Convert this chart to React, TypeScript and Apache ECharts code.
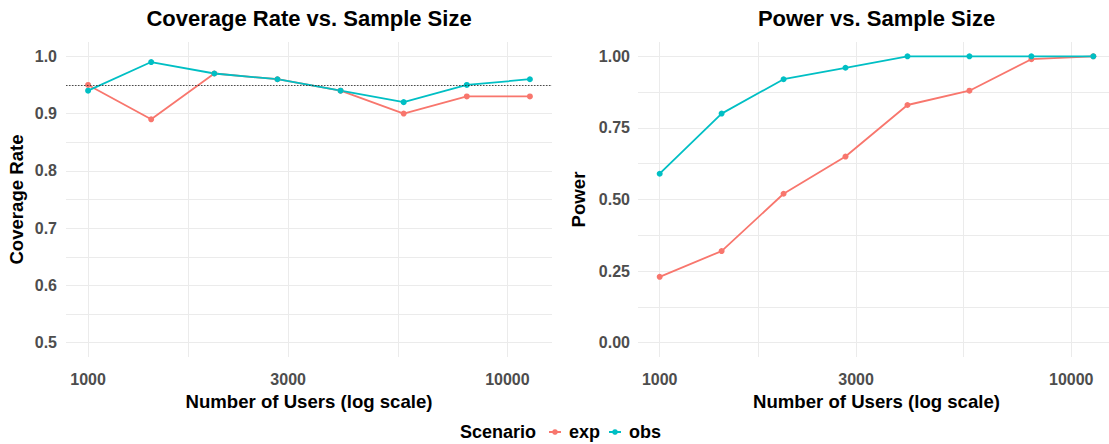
import React, { useEffect, useRef } from "react";
import * as echarts from "echarts";

const sampleSizes = [1000, 1414, 2000, 2828, 4000, 5657, 8000, 11314];
const coverageExp = [0.95, 0.89, 0.97, 0.96, 0.94, 0.9, 0.93, 0.93];
const coverageObs = [0.94, 0.99, 0.97, 0.96, 0.94, 0.92, 0.95, 0.96];
const powerExp = [0.23, 0.32, 0.52, 0.65, 0.83, 0.88, 0.99, 1.0];
const powerObs = [0.59, 0.8, 0.92, 0.96, 1.0, 1.0, 1.0, 1.0];
const nominalCoverage = 0.95;

const xMajorBreaks = [1000, 3000, 10000];
const xAllBreaks = [1000, 1732, 3000, 5477, 10000];
const coverageMajor = [0.5, 0.6, 0.7, 0.8, 0.9, 1.0];
const coverageAll = [0.5, 0.55, 0.6, 0.65, 0.7, 0.75, 0.8, 0.85, 0.9, 0.95, 1.0];
const powerMajor = [0, 0.25, 0.5, 0.75, 1.0];
const powerAll = [0, 0.125, 0.25, 0.375, 0.5, 0.625, 0.75, 0.875, 1.0];

const EXP_COLOR = "#F8766D";
const OBS_COLOR = "#00BFC4";
const FONT = "Liberation Sans, Arial, sans-serif";
const GRID_COLOR = "#EBEBEB";

export default function App() {
  const ref = useRef<HTMLDivElement>(null);

  useEffect(() => {
    if (!ref.current) return;
    const chart = echarts.init(ref.current, undefined, { renderer: "svg" });

    const lx = sampleSizes.map((v) => Math.log10(v));
    const lo = Math.min(...lx);
    const hi = Math.max(...lx);
    const pad = (hi - lo) * 0.05;
    const toPairs = (ys: number[]) => sampleSizes.map((s, i) => [Math.log10(s), ys[i]]);

    const xAxisBase = (gridIndex: number) => ({
      type: "value",
      gridIndex,
      min: lo - pad,
      max: hi + pad,
      axisLine: { show: false },
      axisTick: { show: false, customValues: xAllBreaks.map((v) => Math.log10(v)) },
      axisLabel: {
        customValues: xMajorBreaks.map((v) => Math.log10(v)),
        formatter: (v: number) => String(Math.round(Math.pow(10, v))),
        fontFamily: FONT,
        fontSize: 16,
        fontWeight: "bold",
        color: "#4D4D4D",
        margin: 14,
      },
      splitLine: { show: true, lineStyle: { color: GRID_COLOR, width: 1 } },
      name: "Number of Users (log scale)",
      nameLocation: "middle",
      nameGap: 30,
      nameTextStyle: { fontFamily: FONT, fontSize: 18.6, fontWeight: "bold", color: "#000" },
    });

    const seriesBase = (name: string, color: string, xi: number, data: number[][]) => ({
      type: "line",
      name,
      xAxisIndex: xi,
      yAxisIndex: xi,
      data,
      color,
      symbol: "circle",
      symbolSize: 6,
      lineStyle: { color, width: 1.8 },
      itemStyle: { color },
      silent: true,
    });

    const option: any = {
      animation: false,
      backgroundColor: "#fff",
      grid: [
        { left: 66, top: 42, width: 486, height: 315, outerBoundsMode: "none" },
        { left: 638, top: 42, width: 477, height: 315, outerBoundsMode: "none" },
      ],
      xAxis: [xAxisBase(0), xAxisBase(1)],
      yAxis: [
        {
          type: "value",
          gridIndex: 0,
          min: 0.475,
          max: 1.025,
          axisLine: { show: false },
          axisTick: { show: false, customValues: coverageAll },
          axisLabel: {
            customValues: coverageMajor,
            formatter: (v: number) => v.toFixed(1),
            fontFamily: FONT,
            fontSize: 16,
            fontWeight: "bold",
            color: "#4D4D4D",
            margin: 9,
          },
          splitLine: { show: true, lineStyle: { color: GRID_COLOR, width: 1 } },
          name: "Coverage Rate",
          nameLocation: "middle",
          nameGap: 40,
          nameTextStyle: { fontFamily: FONT, fontSize: 18.6, fontWeight: "bold", color: "#000" },
        },
        {
          type: "value",
          gridIndex: 1,
          min: -0.05,
          max: 1.05,
          axisLine: { show: false },
          axisTick: { show: false, customValues: powerAll },
          axisLabel: {
            customValues: powerMajor,
            formatter: (v: number) => v.toFixed(2),
            fontFamily: FONT,
            fontSize: 16,
            fontWeight: "bold",
            color: "#4D4D4D",
            margin: 8,
          },
          splitLine: { show: true, lineStyle: { color: GRID_COLOR, width: 1 } },
          name: "Power",
          nameLocation: "middle",
          nameGap: 50,
          nameTextStyle: { fontFamily: FONT, fontSize: 18.6, fontWeight: "bold", color: "#000" },
        },
      ],
      legend: {
        data: ["exp", "obs"],
        left: 548,
        top: 423,
        itemWidth: 12,
        itemHeight: 7,
        itemGap: 8,
        padding: 0,
        selectedMode: false,
        textStyle: {
          fontFamily: FONT,
          fontSize: 18,
          fontWeight: "bold",
          color: "#000",
          padding: [0, 0, 0, 3],
        },
      },
      graphic: [
        {
          type: "text",
          x: 309,
          y: 18,
          style: {
            text: "Coverage Rate vs. Sample Size",
            font: `bold 22px ${FONT}`,
            fill: "#000",
            align: "center",
            verticalAlign: "middle",
          },
        },
        {
          type: "text",
          x: 876.5,
          y: 18,
          style: {
            text: "Power vs. Sample Size",
            font: `bold 22px ${FONT}`,
            fill: "#000",
            align: "center",
            verticalAlign: "middle",
          },
        },
        {
          type: "text",
          x: 460,
          y: 432,
          style: {
            text: "Scenario",
            font: `bold 18px ${FONT}`,
            fill: "#000",
            align: "left",
            verticalAlign: "middle",
          },
        },
      ],
      series: [
        {
          ...seriesBase("exp", EXP_COLOR, 0, toPairs(coverageExp)),
          markLine: {
            silent: true,
            symbol: "none",
            label: { show: false },
            lineStyle: { color: "#222", width: 0.8, type: [1.5, 1.5] },
            data: [{ yAxis: nominalCoverage }],
          },
        },
        seriesBase("obs", OBS_COLOR, 0, toPairs(coverageObs)),
        seriesBase("exp", EXP_COLOR, 1, toPairs(powerExp)),
        seriesBase("obs", OBS_COLOR, 1, toPairs(powerObs)),
      ],
    };

    chart.setOption(option);
    return () => chart.dispose();
  }, []);

  return (
    <div
      ref={ref}
      style={{ position: "fixed", left: 0, top: 0, width: 1109, height: 444, background: "#fff" }}
    />
  );
}
